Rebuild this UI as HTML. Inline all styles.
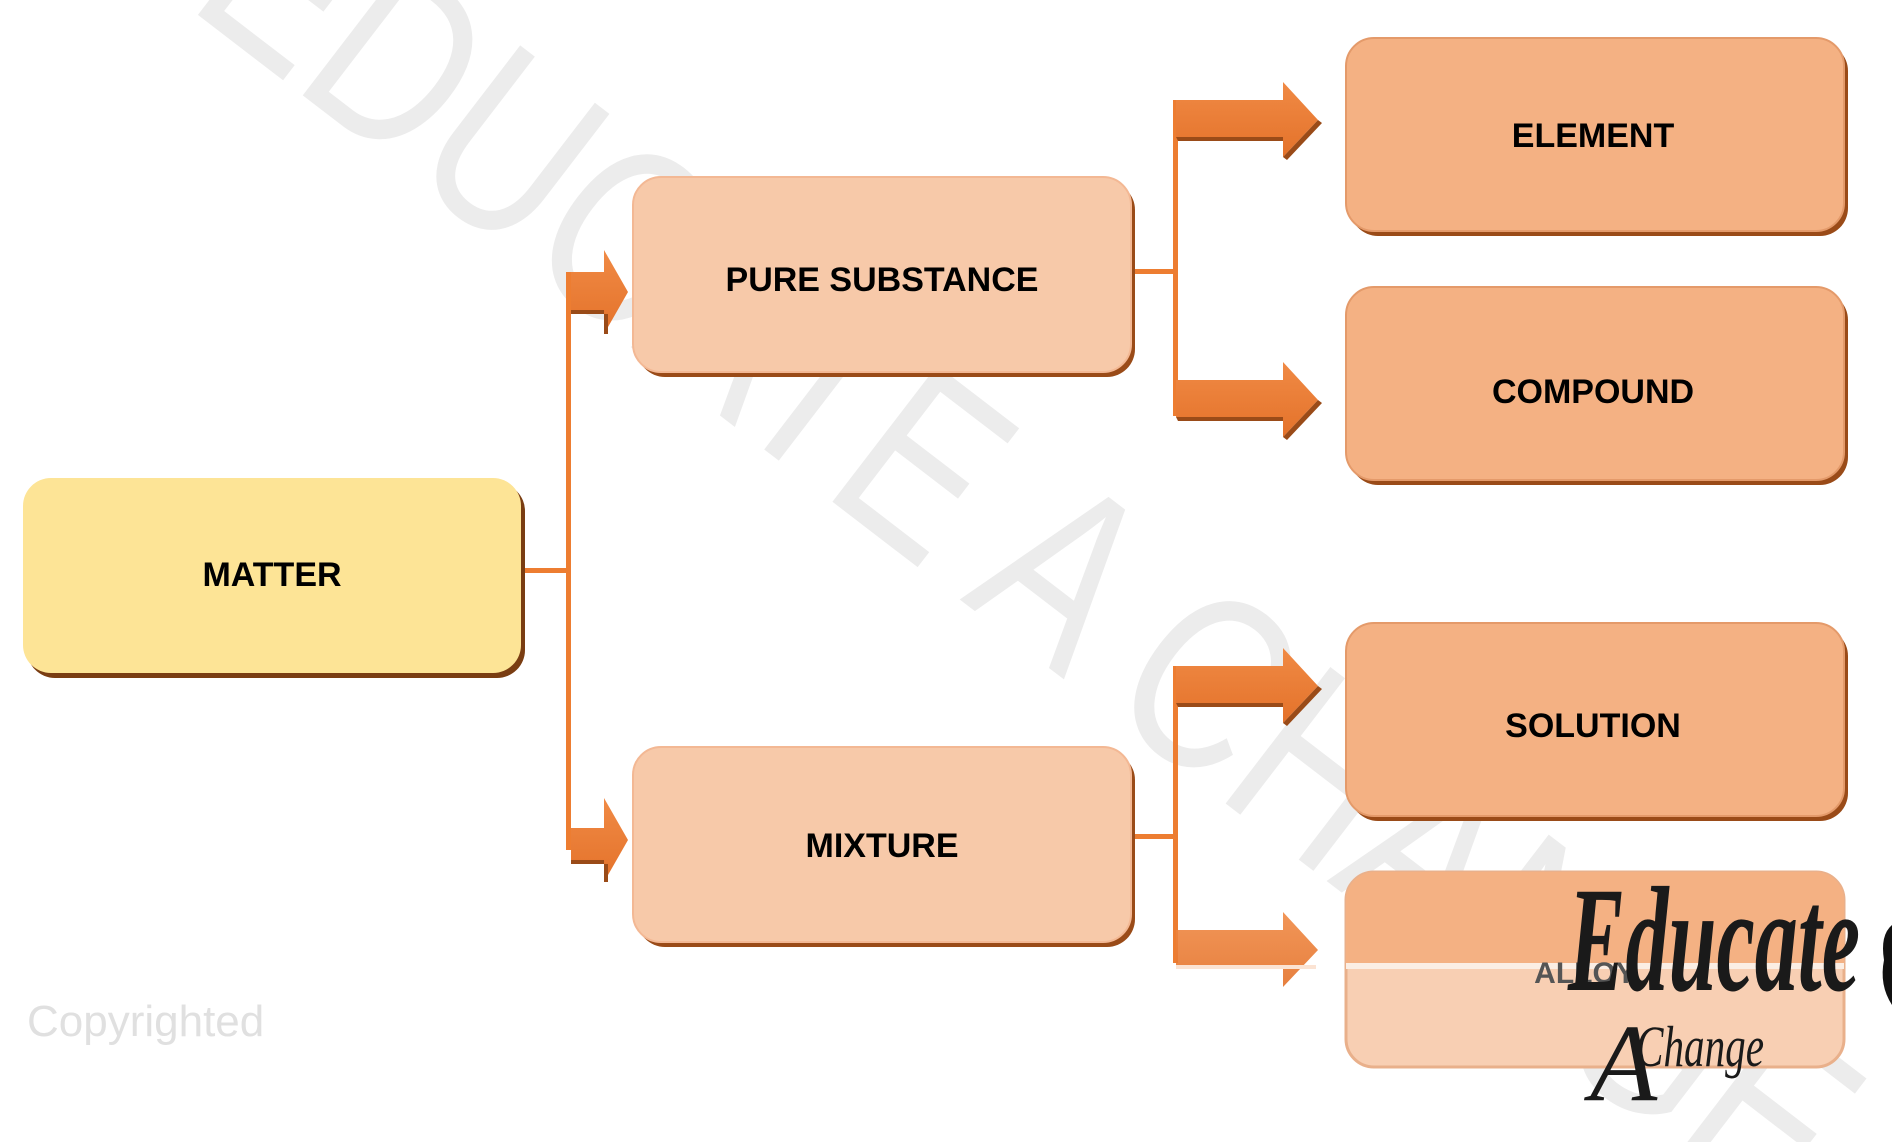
<!DOCTYPE html>
<html><head><meta charset="utf-8"><style>
html,body{margin:0;padding:0;background:#fff;overflow:hidden;}
svg{display:block;}
</style></head><body>
<svg width="1900" height="1142" viewBox="0 0 1900 1142" xmlns="http://www.w3.org/2000/svg">
<defs>
<linearGradient id="arr" x1="0" y1="0" x2="0" y2="1">
<stop offset="0" stop-color="#f08a45"/><stop offset="1" stop-color="#e4722a"/>
</linearGradient>
</defs>
<rect width="1900" height="1142" fill="#fff"/>

<!-- watermark -->
<text x="0" y="0" transform="translate(185,5) rotate(37.5)" font-family="Liberation Sans, sans-serif" font-size="250" fill="#ececec" textLength="2000" lengthAdjust="spacingAndGlyphs">EDUCATE A CHANGE</text>

<!-- connectors -->
<g fill="#ed7d31">
<rect x="521" y="568" width="48" height="5"/>
<rect x="566" y="272" width="5" height="578"/>
<rect x="1131" y="269" width="45" height="5"/>
<rect x="1173" y="100" width="5" height="316"/>
<rect x="1131" y="834" width="45" height="5"/>
<rect x="1173" y="666" width="5" height="297"/>
</g>

<g>
<polygon points="571,272 604,272 604,250 628,292 604,334 604,310 571,310" fill="url(#arr)"/>
<polygon points="571,310 604,310 604,334 608,334 608,314 571,314" fill="#9a4b18"/>
<polygon points="571,828 604,828 604,798 628,840 604,882 604,860 571,860" fill="url(#arr)"/>
<polygon points="571,860 604,860 604,882 608,882 608,864 571,864" fill="#9a4b18"/>
<polygon points="1176,100 1283,100 1283,82 1318,120 1283,157 1283,137 1176,137" fill="url(#arr)"/>
<polygon points="1176,137 1283,137 1283,157 1287,160 1322,123 1318,120 1283,157 1283,141 1178,141" fill="#9a4b18"/>
<polygon points="1176,380 1283,380 1283,362 1318,400 1283,437 1283,417 1176,417" fill="url(#arr)"/>
<polygon points="1176,417 1283,417 1283,437 1287,440 1322,403 1318,400 1283,437 1283,421 1178,421" fill="#9a4b18"/>
<polygon points="1176,666 1283,666 1283,648 1318,686 1283,723 1283,703 1176,703" fill="url(#arr)"/>
<polygon points="1176,703 1283,703 1283,723 1287,726 1322,689 1318,686 1283,723 1283,707 1178,707" fill="#9a4b18"/>
<polygon points="1176,930 1283,930 1283,912 1318,950 1283,987 1283,967 1176,967" fill="url(#arr)" opacity="0.9"/>
<rect x="1176" y="965" width="140" height="4" fill="#fbe3d3"/>
</g>

<g font-family="Liberation Sans, sans-serif" font-weight="bold" font-size="34" text-anchor="middle">
<rect x="27" y="483" width="498" height="195" rx="28" fill="#7a3d12"/>
<rect x="23" y="478" width="498" height="195" rx="28" fill="#fde496"/>
<text x="272" y="586">MATTER</text>

<rect x="637" y="182" width="498" height="195" rx="28" fill="#9a4b18"/>
<rect x="633" y="177" width="498" height="195" rx="28" fill="#f7c9a9" stroke="#f3b894" stroke-width="2"/>
<text x="882" y="291">PURE SUBSTANCE</text>

<rect x="637" y="752" width="498" height="195" rx="28" fill="#9a4b18"/>
<rect x="633" y="747" width="498" height="195" rx="28" fill="#f7c9a9" stroke="#f3b894" stroke-width="2"/>
<text x="882" y="857">MIXTURE</text>

<rect x="1350" y="43" width="498" height="193" rx="28" fill="#9a4b18"/>
<rect x="1346" y="38" width="498" height="193" rx="28" fill="#f4b183" stroke="#e49a6a" stroke-width="2"/>
<text x="1593" y="147">ELEMENT</text>

<rect x="1350" y="292" width="498" height="193" rx="28" fill="#9a4b18"/>
<rect x="1346" y="287" width="498" height="193" rx="28" fill="#f4b183" stroke="#e49a6a" stroke-width="2"/>
<text x="1593" y="403">COMPOUND</text>

<rect x="1350" y="628" width="498" height="193" rx="28" fill="#9a4b18"/>
<rect x="1346" y="623" width="498" height="193" rx="28" fill="#f4b183" stroke="#e49a6a" stroke-width="2"/>
<text x="1593" y="737">SOLUTION</text>

<rect x="1346" y="872" width="498" height="195" rx="28" fill="#f8cfb3" stroke="#e9b08b" stroke-width="3"/>
<path d="M1374,872 H1816 A28,28 0 0 1 1844,900 V965 H1346 V900 A28,28 0 0 1 1374,872 Z" fill="#f4b183"/>
<rect x="1346" y="963" width="498" height="6" fill="#fbeee4"/>
<text x="1585" y="983" fill="#555" font-size="30">ALLOY</text>
</g>

<text x="27" y="1036" font-family="Liberation Sans, sans-serif" font-size="44" fill="#e0e0e0">Copyrighted</text>

<!-- logo -->
<g font-family="Liberation Serif, serif" font-style="italic" fill="#1a1a1a">
<text x="1568" y="990" font-size="150" font-weight="bold" textLength="292" lengthAdjust="spacingAndGlyphs">Educate</text>
<text x="1636" y="1066" font-size="58" textLength="128" lengthAdjust="spacingAndGlyphs">Change</text>
<text x="1590" y="1100" font-size="110">A</text>
</g>
<path d="M1892,925 q-12,10 -8,35 q-5,25 8,45 z" fill="#111"/>
</svg>
</body></html>
